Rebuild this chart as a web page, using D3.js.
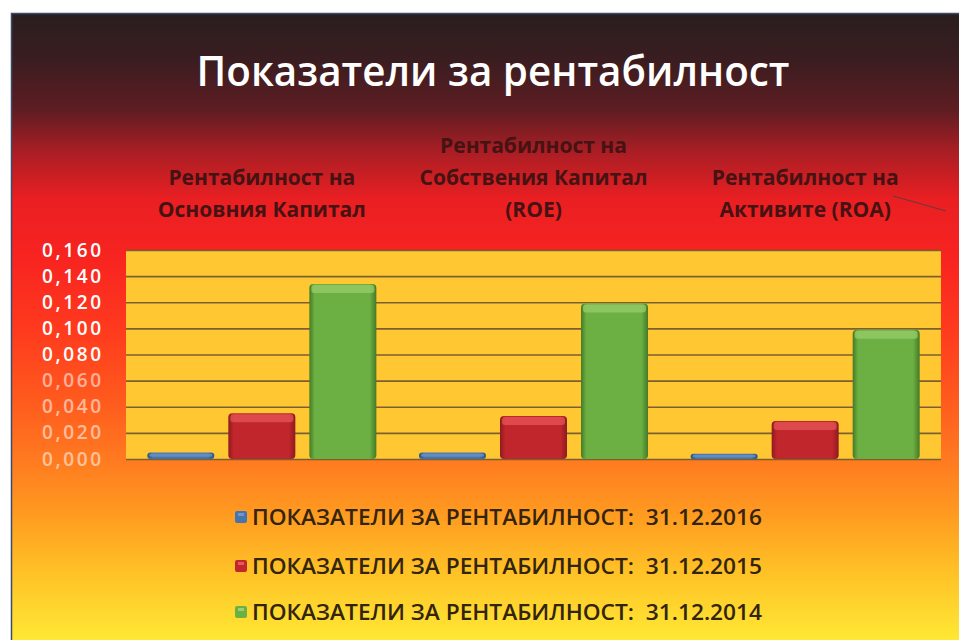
<!DOCTYPE html>
<html>
<head>
<meta charset="utf-8">
<script src="https://cdn.jsdelivr.net/npm/d3@7"></script>
<style>
  body { margin: 0; background: #fff; }
  svg text { font-family: "Open Sans", "Noto Sans", sans-serif; }
</style>
</head>
<body>
<div id="chart"></div>
<script>
// data
const categories = [
  ["Рентабилност на", "Основния Капитал"],
  ["Рентабилност на", "Собствения Капитал", "(ROE)"],
  ["Рентабилност на", "Активите (ROA)"]
];
const seriesNames = [
  "ПОКАЗАТЕЛИ ЗА РЕНТАБИЛНОСТ:  31.12.2016",
  "ПОКАЗАТЕЛИ ЗА РЕНТАБИЛНОСТ:  31.12.2015",
  "ПОКАЗАТЕЛИ ЗА РЕНТАБИЛНОСТ:  31.12.2014"
];
const values2016 = [0.005, 0.005, 0.004];
const values2015 = [0.035, 0.033, 0.029];
const values2014 = [0.134, 0.119, 0.099];
const yTicks = [0, 0.02, 0.04, 0.06, 0.08, 0.10, 0.12, 0.14, 0.16];

const series = [values2016, values2015, values2014];
const colors = [
  { base: "#4674ad", light: "#6f97c8", dark: "#2f5585" },
  { base: "#c1262c", light: "#e8585a", dark: "#8e1a1f" },
  { base: "#6cb043", light: "#9bd06e", dark: "#447a26" }
];

const W = 959, H = 640;
const svg = d3.select("#chart").append("svg")
  .attr("width", W).attr("height", H);

const defs = svg.append("defs");

// panel background gradient
const bg = defs.append("linearGradient").attr("id", "bg")
  .attr("x1", 0).attr("y1", 0).attr("x2", 0).attr("y2", 1);
[[0, "#2a1e1f"], [0.075, "#3a1d20"], [0.155, "#5e1d22"], [0.22, "#a81e24"],
 [0.298, "#ea1f22"], [0.394, "#f82420"], [0.506, "#ff3a1e"], [0.617, "#ff5a1e"],
 [0.713, "#ff7a20"], [0.793, "#ff9820"], [0.888, "#ffc026"], [1, "#ffe834"]]
  .forEach(s => bg.append("stop").attr("offset", s[0]).attr("stop-color", s[1]));

// bar gradients
colors.forEach((c, i) => {
  const g = defs.append("linearGradient").attr("id", "bar" + i)
    .attr("x1", 0).attr("y1", 0).attr("x2", 1).attr("y2", 0);
  g.append("stop").attr("offset", 0).attr("stop-color", c.dark);
  g.append("stop").attr("offset", 0.08).attr("stop-color", c.base);
  g.append("stop").attr("offset", 0.9).attr("stop-color", c.base);
  g.append("stop").attr("offset", 1).attr("stop-color", c.dark);
});

// panel
svg.append("rect")
  .attr("x", 11).attr("y", 13).attr("width", W - 11).attr("height", H - 13)
  .attr("fill", "url(#bg)");
svg.append("path")
  .attr("d", `M11.5,${H} V13.5 H${W}`)
  .attr("fill", "none").attr("stroke", "#3b4b6b").attr("stroke-width", 1.5);

// title
svg.append("text")
  .attr("x", 493).attr("y", 86)
  .attr("text-anchor", "middle")
  .attr("font-size", 42).attr("font-weight", 600)
  .attr("fill", "#fff")
  .attr("textLength", 593).attr("lengthAdjust", "spacingAndGlyphs")
  .text("Показатели за рентабилност");

// scales
const margin = { left: 126, right: 941, top: 250, bottom: 459 };
const x0 = d3.scaleBand()
  .domain(d3.range(categories.length))
  .range([margin.left, margin.right])
  .padding(0);
const x1 = d3.scaleBand()
  .domain(d3.range(series.length))
  .range([0, x0.bandwidth()])
  .paddingInner(0.173)
  .paddingOuter(0.263);
const y = d3.scaleLinear()
  .domain([0, 0.16])
  .range([margin.bottom, margin.top]);

// plot area
svg.append("rect")
  .attr("x", margin.left).attr("y", margin.top)
  .attr("width", margin.right - margin.left)
  .attr("height", margin.bottom - margin.top)
  .attr("fill", "#ffc832");

// gridlines
svg.append("g")
  .attr("class", "grid")
  .attr("transform", `translate(${margin.left},0)`)
  .call(d3.axisLeft(y).tickValues(yTicks).tickSize(-(margin.right - margin.left)).tickFormat(""))
  .call(g => g.select(".domain").remove())
  .selectAll("line")
  .attr("stroke", "#7a6030").attr("stroke-width", 1.6);

// y labels
const fmt = v => d3.format(".3f")(v).replace(".", ",");
svg.append("g")
  .attr("transform", `translate(101,0)`)
  .call(d3.axisLeft(y).tickValues(yTicks).tickSize(0).tickPadding(0).tickFormat(fmt))
  .call(g => g.select(".domain").remove())
  .selectAll("text")
  .attr("fill", "#fff")
  .attr("font-size", 19).attr("font-weight", 600)
  .attr("font-family", "Open Sans, sans-serif")
  .attr("textLength", 59).attr("lengthAdjust", "spacing")
  .attr("opacity", d => d < 0.07 ? 0.55 : 1);

// bars
const groups = svg.append("g").selectAll("g")
  .data(categories)
  .join("g")
  .attr("transform", (d, i) => `translate(${x0(i)},0)`);

groups.each(function(cat, ci) {
  const g = d3.select(this);
  series.forEach((vals, si) => {
    const v = vals[ci];
    const bx = x1(si), bw = x1.bandwidth();
    const top = y(v), h = y(0) - y(v);
    g.append("rect")
      .attr("x", bx).attr("y", top)
      .attr("width", bw).attr("height", h)
      .attr("rx", Math.min(4, h / 2)).attr("ry", Math.min(4, h / 2))
      .attr("fill", `url(#bar${si})`);
    const bev = Math.min(8, h / 2);
    g.append("rect")
      .attr("x", bx + 2).attr("y", top + 1)
      .attr("width", bw - 4).attr("height", bev)
      .attr("rx", 3).attr("ry", 3)
      .attr("fill", colors[si].light).attr("opacity", 0.7);
  });

  // category label above plot
  const lines = cat;
  const cx = x0.bandwidth() / 2;
  g.append("text")
    .attr("text-anchor", "middle")
    .attr("font-size", 21).attr("font-weight", 700)
    .attr("fill", "#451313")
    .attr("transform", `translate(${cx},0)`)
    .selectAll("tspan")
    .data(lines)
    .join("tspan")
    .attr("x", 0)
    .attr("y", (d, i) => 217 - (lines.length - 1 - i) * 32)
    .text(d => d);
});

// stray line near the third label
svg.append("line")
  .attr("x1", 893).attr("y1", 196).attr("x2", 946).attr("y2", 211)
  .attr("stroke", "#6a3a40").attr("stroke-width", 1.2);

// legend
const legend = svg.append("g");
seriesNames.forEach((name, i) => {
  const ly = [517, 566, 612][i];
  legend.append("rect")
    .attr("x", 235).attr("y", ly - 6).attr("width", 12).attr("height", 12)
    .attr("rx", 2).attr("fill", colors[i].base);
  legend.append("rect")
    .attr("x", 238).attr("y", ly - 4).attr("width", 6).attr("height", 3)
    .attr("fill", colors[i].light);
  legend.append("text")
    .attr("x", 252).attr("y", ly + 8)
    .attr("font-size", 22).attr("font-weight", 600)
    .attr("fill", "#33240e")
    .attr("textLength", 510).attr("lengthAdjust", "spacingAndGlyphs")
    .style("white-space", "pre")
    .text(name);
});
</script>
</body>
</html>
